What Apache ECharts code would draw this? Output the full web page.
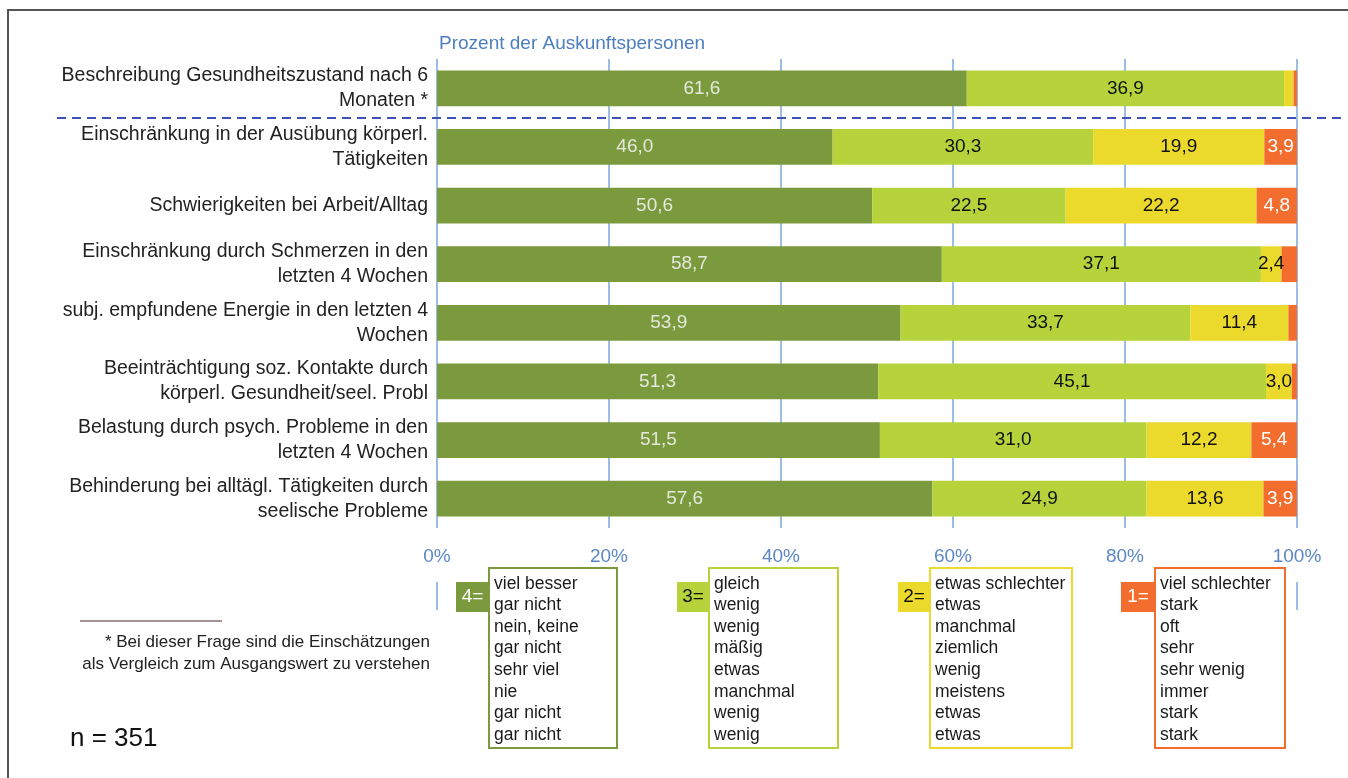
<!DOCTYPE html>
<html>
<head>
<meta charset="utf-8">
<script src="https://cdn.jsdelivr.net/npm/echarts@6/dist/echarts.min.js"></script>
<style>
  html, body { margin: 0; padding: 0; background: #fff; }
  #chart { width: 1348px; height: 778px; }
</style>
</head>
<body>
<div id="chart"></div>
<script>
const categories = [
    'Beschreibung Gesundheitszustand nach 6\nMonaten *',
    'Einschränkung in der Ausübung körperl.\nTätigkeiten',
    'Schwierigkeiten bei Arbeit/Alltag',
    'Einschränkung durch Schmerzen in den\nletzten 4 Wochen',
    'subj. empfundene Energie in den letzten 4\nWochen',
    'Beeinträchtigung soz. Kontakte durch\nkörperl. Gesundheit/seel. Probl',
    'Belastung durch psych. Probleme in den\nletzten 4 Wochen',
    'Behinderung bei alltägl. Tätigkeiten durch\nseelische Probleme'
]
const vals4 = [61.6, 46.0, 50.6, 58.7, 53.9, 51.3, 51.5, 57.6]
const vals3 = [36.9, 30.3, 22.5, 37.1, 33.7, 45.1, 31.0, 24.9]
const vals2 = [1.1, 19.9, 22.2, 2.4, 11.4, 3.0, 12.2, 13.6]
const vals1 = [0.4, 3.9, 4.8, 1.8, 1.0, 0.6, 5.4, 3.9]
const xTicks = [0, 20, 40, 60, 80, 100]

const legend4 = ['viel besser', 'gar nicht', 'nein, keine', 'gar nicht', 'sehr viel', 'nie', 'gar nicht', 'gar nicht']
const legend3 = ['gleich', 'wenig', 'wenig', 'mäßig', 'etwas', 'manchmal', 'wenig', 'wenig']
const legend2 = ['etwas schlechter', 'etwas', 'manchmal', 'ziemlich', 'wenig', 'meistens', 'etwas', 'etwas']
const legend1 = ['viel schlechter', 'stark', 'oft', 'sehr', 'sehr wenig', 'immer', 'stark', 'stark']

const FONT = 'Liberation Sans, Arial, sans-serif'
const colors = ['#7b9a3d', '#b6d33c', '#ebd92c', '#f26d2e']
const labelColors = ['#e4e8dc', '#111', '#111', '#fff']
const gridBlue = '#7aa7de'

const chart = echarts.init(document.getElementById('chart'))

const makeSeries = (name, data, i) => ({
    name: name,
    type: 'bar',
    stack: 'total',
    data: data,
    barCategoryGap: '39%',
    itemStyle: { color: colors[i] },
    label: {
        show: true,
        position: 'inside',
        fontFamily: FONT,
        fontSize: 19,
        color: labelColors[i],
        formatter: p => p.value >= 2 ? p.value.toFixed(1).replace('.', ',') : ''
    },
    emphasis: { disabled: true }
})

// legend boxes below the axis
const boxes = [
    { key: '4=', lines: legend4, color: colors[0], keyColor: '#fff', x: 489, keyX: 456, w: 128 },
    { key: '3=', lines: legend3, color: colors[1], keyColor: '#111', x: 709, keyX: 677, w: 129 },
    { key: '2=', lines: legend2, color: colors[2], keyColor: '#111', x: 930, keyX: 898, w: 142 },
    { key: '1=', lines: legend1, color: colors[3], keyColor: '#fff', x: 1155, keyX: 1121, w: 130 }
]
const boxGraphics = []
boxes.forEach(b => {
    boxGraphics.push({
        type: 'rect', shape: { x: b.x, y: 568, width: b.w, height: 180 },
        style: { fill: 'none', stroke: b.color, lineWidth: 2 }
    })
    boxGraphics.push({
        type: 'rect', shape: { x: b.keyX, y: 582, width: b.x - b.keyX, height: 30 },
        style: { fill: b.color }
    })
    boxGraphics.push({
        type: 'text', x: b.keyX + (b.x - b.keyX) / 2, y: 597,
        style: { text: b.key, fill: b.keyColor, font: '19px ' + FONT, textAlign: 'center', textVerticalAlign: 'middle' }
    })
    boxGraphics.push({
        type: 'text', x: b.x + 5, y: 573,
        style: { text: b.lines.join('\n'), fill: '#1a1a1a', font: '17.5px ' + FONT, lineHeight: 21.6 }
    })
})

const option = {
    animation: false,
    title: {
        text: 'Prozent der Auskunftspersonen',
        left: 434,
        top: 29,
        textStyle: { fontFamily: FONT, fontSize: 19, fontWeight: 'normal', color: '#4d7fc0' }
    },
    grid: { left: 437, right: 51, top: 59, bottom: 250, containLabel: false },
    xAxis: {
        type: 'value',
        min: 0,
        max: 100,
        interval: 20,
        axisLine: { show: false },
        axisTick: { show: false },
        axisLabel: {
            margin: 19,
            fontFamily: FONT,
            fontSize: 19,
            color: '#5b87c7',
            formatter: v => xTicks.includes(v) ? v + ' %'.trim() : ''
        },
        splitLine: { show: true, lineStyle: { color: gridBlue, width: 1.5, opacity: 1 } }
    },
    yAxis: {
        type: 'category',
        inverse: true,
        data: categories,
        axisLine: { show: false },
        axisTick: { show: false },
        axisLabel: {
            margin: 9,
            fontFamily: FONT,
            fontSize: 19.5,
            lineHeight: 25,
            color: '#222',
            align: 'right'
        }
    },
    series: [
        makeSeries('4', vals4, 0),
        makeSeries('3', vals3, 1),
        makeSeries('2', vals2, 2),
        makeSeries('1', vals1, 3)
    ],
    graphic: [
        // frame
        {
            type: 'polyline', shape: { points: [[8, 778], [8, 10], [1348, 10]] },
            style: { fill: 'none', stroke: '#555', lineWidth: 2 }
        },
        // separator after first question
        {
            type: 'line', shape: { x1: 57, y1: 118, x2: 1342, y2: 118 },
            style: { stroke: '#3f51b5', lineWidth: 2, lineDash: [9, 6] }, z: 10
        },
        // small ticks below the axis labels
        {
            type: 'line', shape: { x1: 437, y1: 582, x2: 437, y2: 610 },
            style: { stroke: gridBlue, lineWidth: 1.5 }
        },
        {
            type: 'line', shape: { x1: 1297, y1: 582, x2: 1297, y2: 610 },
            style: { stroke: gridBlue, lineWidth: 1.5 }
        },
        // footnote
        {
            type: 'line', shape: { x1: 80, y1: 621, x2: 222, y2: 621 },
            style: { stroke: '#8a6f6f', lineWidth: 1.5 }
        },
        {
            type: 'text', x: 430, y: 631,
            style: {
                text: '* Bei dieser Frage sind die Einschätzungen\nals Vergleich zum Ausgangswert zu verstehen',
                font: '17px ' + FONT, fill: '#222', textAlign: 'right', lineHeight: 22
            }
        },
        {
            type: 'text', x: 70, y: 726,
            style: { text: 'n = 351', font: '26px ' + FONT, fill: '#111' }
        },
        ...boxGraphics
    ]
}

chart.setOption(option)
</script>
</body>
</html>
